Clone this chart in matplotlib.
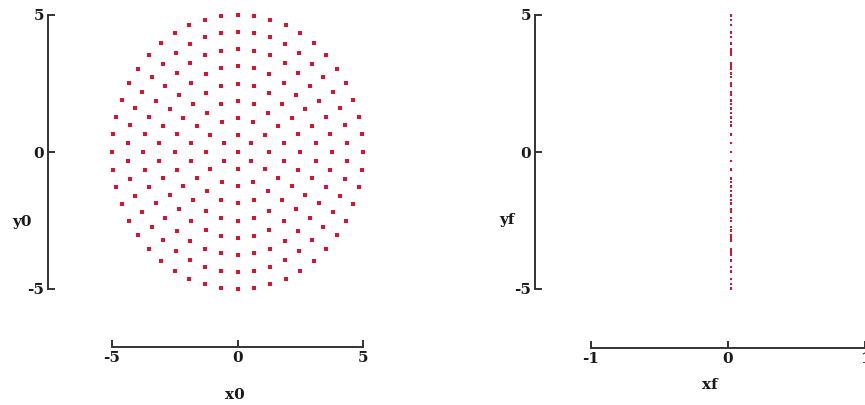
import numpy as np
import matplotlib.pyplot as plt

plt.rcParams['axes.unicode_minus'] = False

# hexapolar pupil grid: ring radii and number of rays on each ring
ring_radius = [0.0, 0.625, 1.25, 1.875, 2.5, 3.125, 3.75, 4.375, 5.0]
ring_count = [1, 6, 12, 18, 24, 30, 36, 42, 48]

# image plane: every ray lands at the same small x offset
xf_value = 0.02

x0, y0 = [], []
for r, n in zip(ring_radius, ring_count):
    for k in range(n):
        t = 2 * np.pi * k / n   # measured from +y
        x0.append(r * np.sin(t))
        y0.append(r * np.cos(t))
x0 = np.array(x0)
y0 = np.array(y0)
xf = np.full_like(x0, xf_value)
yf = y0.copy()

x0_ticks = [-5, 0, 5]
y0_ticks = [-5, 0, 5]
xf_ticks = [-1, 0, 1]
yf_ticks = [-5, 0, 5]

W, H = 865, 405
fig = plt.figure(figsize=(W / 100, H / 100), dpi=100)

font = dict(family='DejaVu Serif', weight='bold', size=11)
axis_col = '#333333'
txt_col = '#1a1a1a'
red = '#dc1230'


def style(ax, xoff, yoff):
    for s in ['top', 'right']:
        ax.spines[s].set_visible(False)
    ax.spines['left'].set_position(('outward', yoff))
    ax.spines['bottom'].set_position(('outward', xoff))
    for s in ['left', 'bottom']:
        ax.spines[s].set_linewidth(1.4)
        ax.spines[s].set_color(axis_col)
    ax.tick_params(direction='in', length=5, width=1.4, color=axis_col, pad=3)
    for lab in ax.get_xticklabels() + ax.get_yticklabels():
        lab.set_fontfamily(font['family'])
        lab.set_fontweight('bold')
        lab.set_fontsize(font['size'])
        lab.set_color(txt_col)


# left: ray start positions
ax1 = fig.add_axes([112 / W, 116 / H, 251 / W, 274 / H])
ax1.plot(x0, y0, 's', color=red, markersize=2.4, markeredgewidth=0, clip_on=False)
ax1.set_xlim(-5, 5)
ax1.set_ylim(-5, 5)
ax1.set_xticks(x0_ticks)
ax1.set_yticks(y0_ticks)
style(ax1, 41.8, 46.1)
ax1.set_xlabel('x0', fontdict=font, color=txt_col, va='center')
ax1.set_ylabel('y0', fontdict=font, color=txt_col, rotation=0, ha='center', va='center')
ax1.xaxis.set_label_coords(0.49, -0.387)
ax1.yaxis.set_label_coords(-0.359, 0.245)

# right: ray end positions
ax2 = fig.add_axes([591 / W, 116 / H, 274 / W, 274 / H])
ax2.plot(xf, yf, 's', color=red, markersize=2.0, markeredgewidth=0, clip_on=False)
ax2.set_xlim(-1, 1)
ax2.set_ylim(-5, 5)
ax2.set_xticks(xf_ticks)
ax2.set_yticks(yf_ticks)
style(ax2, 42.5, 40.3)
ax2.set_xlabel('xf', fontdict=font, color=txt_col, va='center')
ax2.set_ylabel('yf', fontdict=font, color=txt_col, rotation=0, ha='center', va='center')
ax2.xaxis.set_label_coords(0.434, -0.350)
ax2.yaxis.set_label_coords(-0.307, 0.252)

fig.savefig('out.png', dpi=100)
